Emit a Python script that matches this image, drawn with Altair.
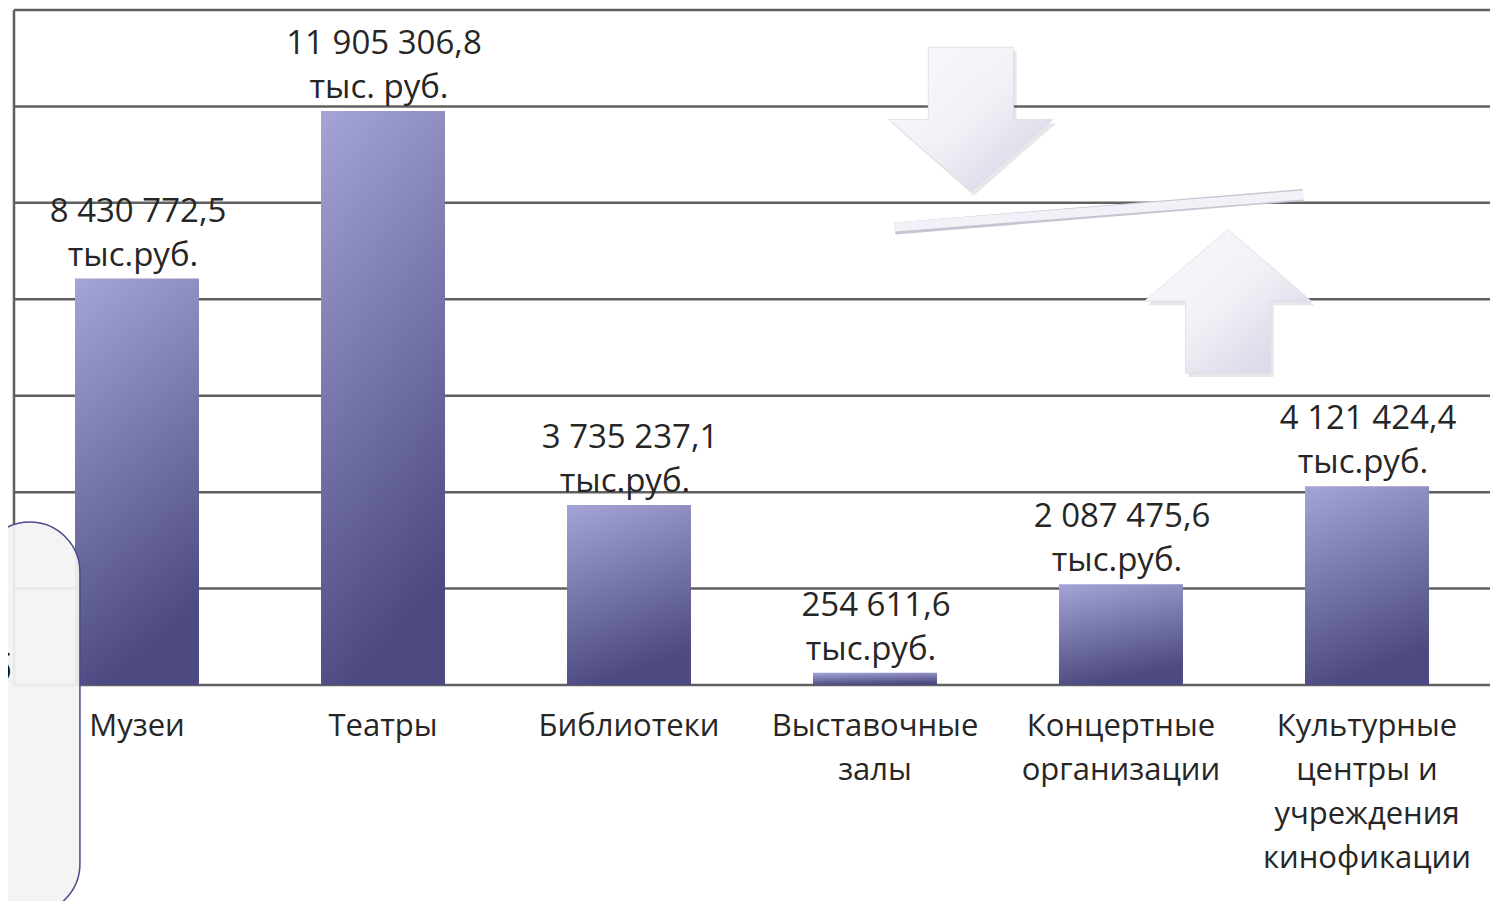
import altair as alt
import pandas as pd

# ---- data -------------------------------------------------------------
categories = [
    "Музеи",
    "Театры",
    "Библиотеки",
    "Выставочные\nзалы",
    "Концертные\nорганизации",
    "Культурные\nцентры и\nучреждения\nкинофикации",
]
values = [8430772.5, 11905306.8, 3735237.1, 254611.6, 2087475.6, 4121424.4]
value_labels = ["8 430 772,5", "11 905 306,8", "3 735 237,1",
                "254 611,6", "2 087 475,6", "4 121 424,4"]
unit_labels = ["тыс.руб.", "тыс. руб.", "тыс.руб.",
               "тыс.руб.", "тыс.руб.", "тыс.руб."]
grid_values = [0, 2e6, 4e6, 6e6, 8e6, 10e6, 12e6, 14e6]

# decorative slide shapes (x in category-slot units, y in data units)
axis_line = {"x": [0], "y": [0], "y2": [14e6]}
arrow_down = {"x": [3.89], "y": [11.73e6]}
arrow_up = {"x": [4.935], "y": [7.96e6]}
strip = {"x": [3.581], "x2": [5.24], "y": [9.50e6], "y2": [10.163e6]}
side_box = {"x": [-0.14], "x2": [0.268], "y": [3.38e6], "y2": [-4.75e6]}
side_text = {"x": [-0.008], "y": [0.31e6], "t": ["б"]}

FONT = "Open Sans"
TXT = "#262626"
GRID = "#606060"
N = len(categories)
BAR_HALF = 0.252  # half bar width in slot units

df = pd.DataFrame({"cat": categories, "value": values,
                   "label": value_labels, "unit": unit_labels,
                   "idx": list(range(N))})

xq = alt.Scale(domain=[0, N], nice=False, zero=False)
yq = alt.Scale(domain=[0, 14e6], nice=False, zero=True)

base = alt.Chart(df).transform_calculate(
    xc="datum.idx + 0.5",
    xl=f"datum.idx + 0.5 - {BAR_HALF}",
    xr=f"datum.idx + 0.5 + {BAR_HALF}",
    zero="0",
)

bar_grad = alt.LinearGradient(
    gradient="linear",
    stops=[alt.GradientStop(color="#a4a4d6", offset=0),
           alt.GradientStop(color="#4c4a80", offset=1)],
    x1=0, y1=0, x2=0.25, y2=1,
)

grid = alt.Chart(pd.DataFrame({"g": grid_values})).transform_calculate(
    a="0", b=str(N)).mark_rule(color=GRID, strokeWidth=2.5).encode(
    x=alt.X("a:Q", scale=xq, axis=None), x2="b:Q",
    y=alt.Y("g:Q", scale=yq, axis=None))

left_line = alt.Chart(pd.DataFrame(axis_line)).mark_rule(
    color=GRID, strokeWidth=2.5).encode(
    x=alt.X("x:Q", axis=None), y=alt.Y("y:Q", axis=None), y2="y2:Q")

bars = base.mark_rect(fill=bar_grad).encode(
    x=alt.X("xl:Q", axis=None), x2="xr:Q",
    y=alt.Y("value:Q", axis=None), y2="zero:Q")
lab1 = base.mark_text(dy=-67, dx=1, font=FONT, fontSize=33, color=TXT,
                      baseline="middle").encode(
    x=alt.X("xc:Q", axis=None), y=alt.Y("value:Q", axis=None), text="label:N")
lab2 = base.mark_text(dy=-23, dx=-4, font=FONT, fontSize=33, color=TXT,
                      baseline="middle").encode(
    x=alt.X("xc:Q", axis=None), y=alt.Y("value:Q", axis=None), text="unit:N")
xlab = base.mark_text(dy=27, font=FONT, fontSize=31, color=TXT,
                      baseline="top", lineBreak="\n", lineHeight=44).encode(
    x=alt.X("xc:Q", axis=None), y=alt.Y("zero:Q", axis=None), text="cat:N")

# ---- decorations ------------------------------------------------------
arrow_grad = alt.LinearGradient(
    gradient="linear",
    stops=[alt.GradientStop(color="#fbfbfd", offset=0),
           alt.GradientStop(color="#f0f0f6", offset=0.5),
           alt.GradientStop(color="#cfcfe4", offset=1)],
    x1=0, y1=0, x2=1, y2=1,
)
down_path = "M-0.52,-0.88 L0.52,-0.88 L0.52,0 L1,0 L0,0.88 L-1,0 L-0.52,0 Z"
up_path = "M0,-0.86 L1,0 L0.51,0 L0.51,0.86 L-0.51,0.86 L-0.51,0 L-1,0 Z"


def arrow_layers(d, path, size):
    src = pd.DataFrame(d)
    enc = dict(x=alt.X("x:Q", axis=None), y=alt.Y("y:Q", axis=None))
    shadow = alt.Chart(src).mark_point(shape=path, size=size, filled=True,
                                       fill="#7a7a8a", opacity=0.18, strokeWidth=0,
                                       xOffset=3, yOffset=4).encode(**enc)
    body = alt.Chart(src).mark_point(shape=path, size=size, filled=True,
                                     fill=arrow_grad, opacity=1, stroke="#dcdce8",
                                     strokeWidth=0.8).encode(**enc)
    return [shadow, body]


sdf = pd.DataFrame(strip)
strip_enc = dict(x=alt.X("x:Q", axis=None), x2="x2:Q",
                 y=alt.Y("y:Q", axis=None), y2="y2:Q")
strip_shadow = alt.Chart(sdf).mark_rule(strokeWidth=12, color="#c6c6d2",
                                        strokeCap="butt", yOffset=1.5).encode(**strip_enc)
strip_body = alt.Chart(sdf).mark_rule(strokeWidth=9, color="#f1f1f8",
                                      strokeCap="butt").encode(**strip_enc)

box = alt.Chart(pd.DataFrame(side_box)).mark_rect(
    cornerRadius=66, fill="#f3f3f3", fillOpacity=0.93,
    stroke="#4a4a8c", strokeWidth=1.5).encode(
    x=alt.X("x:Q", axis=None), x2="x2:Q",
    y=alt.Y("y:Q", axis=None), y2="y2:Q")
box_text = alt.Chart(pd.DataFrame(side_text)).mark_text(
    align="right", baseline="middle", font=FONT, fontSize=36, color="#111").encode(
    x=alt.X("x:Q", axis=None), y=alt.Y("y:Q", axis=None), text="t:N")

chart = alt.layer(
    grid, left_line, bars, lab1, lab2, xlab,
    *arrow_layers(arrow_down, down_path, 164 * 164),
    *arrow_layers(arrow_up, up_path, 167 * 167),
    strip_shadow, strip_body, box, box_text,
).properties(
    width=1476, height=675,
    autosize=alt.AutoSizeParams(type="none"),
    padding={"left": 6, "top": 2, "right": 13, "bottom": 235},
    background="white",
).configure_view(stroke=None)

chart.save("out.html", embed_options={"renderer": "svg", "actions": False})
